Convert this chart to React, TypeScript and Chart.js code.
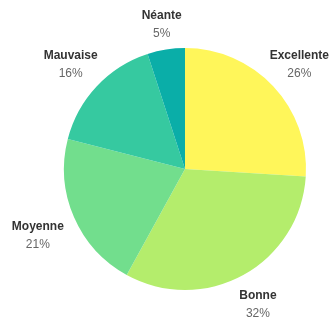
import React, { useEffect, useRef } from "react";
import { Chart, registerables } from "chart.js";

Chart.register(...registerables);

const categories = ["Excellente", "Bonne", "Moyenne", "Mauvaise", "Néante"];
const values = [26, 32, 21, 16, 5];
const colors = ["#fff65a", "#b4ed6c", "#72de8d", "#36c9a0", "#0aaea8"];

const labelPlugin = {
  id: "outerLabels",
  afterDatasetsDraw(chart: any) {
    const ctx = chart.ctx;
    const meta = chart.getDatasetMeta(0);
    const total = values.reduce((a, b) => a + b, 0);
    ctx.save();
    meta.data.forEach((arc: any, i: number) => {
      const { x, y, startAngle, endAngle, outerRadius } = arc.getProps(
        ["x", "y", "startAngle", "endAngle", "outerRadius"],
        true
      );
      const mid = (startAngle + endAngle) / 2;
      const name = categories[i];
      const pct = Math.round((values[i] / total) * 100) + "%";
      ctx.font = "bold 12px 'Liberation Sans', Arial, sans-serif";
      const w1 = ctx.measureText(name).width;
      ctx.font = "12px 'Liberation Sans', Arial, sans-serif";
      const w2 = ctx.measureText(pct).width;
      const hw = Math.max(w1, w2) / 2;
      const hh = 17;
      const c = Math.cos(mid);
      const s = Math.sin(mid);
      const ext = Math.min(
        Math.abs(c) > 1e-6 ? hw / Math.abs(c) : Infinity,
        Math.abs(s) > 1e-6 ? hh / Math.abs(s) : Infinity
      );
      const d = outerRadius + 11 + ext;
      const lx = x + c * d;
      const ly = y + s * d;
      ctx.textAlign = "center";
      ctx.textBaseline = "middle";
      ctx.font = "bold 12px 'Liberation Sans', Arial, sans-serif";
      ctx.fillStyle = "#333333";
      ctx.fillText(name, lx, ly - 6);
      ctx.font = "12px 'Liberation Sans', Arial, sans-serif";
      ctx.fillStyle = "#666666";
      ctx.fillText(pct, lx, ly + 12);
    });
    ctx.restore();
  },
};

export default function App() {
  const ref = useRef<HTMLCanvasElement | null>(null);
  useEffect(() => {
    document.body.style.margin = "0";
    const chart = new Chart(ref.current as HTMLCanvasElement, {
      type: "pie",
      data: {
        labels: categories,
        datasets: [
          {
            data: values,
            backgroundColor: colors,
            borderWidth: 0,
          },
        ],
      },
      options: {
        animation: false,
        responsive: false,
        layout: { padding: { left: 64, right: 27, top: 48, bottom: 28 } },
        plugins: {
          legend: { display: false },
          tooltip: { enabled: false },
        },
      },
      plugins: [labelPlugin],
    });
    return () => chart.destroy();
  }, []);
  return (
    <div style={{ width: 333, height: 318, background: "#fff" }}>
      <canvas ref={ref} width={333} height={318} style={{ display: "block" }} />
    </div>
  );
}
